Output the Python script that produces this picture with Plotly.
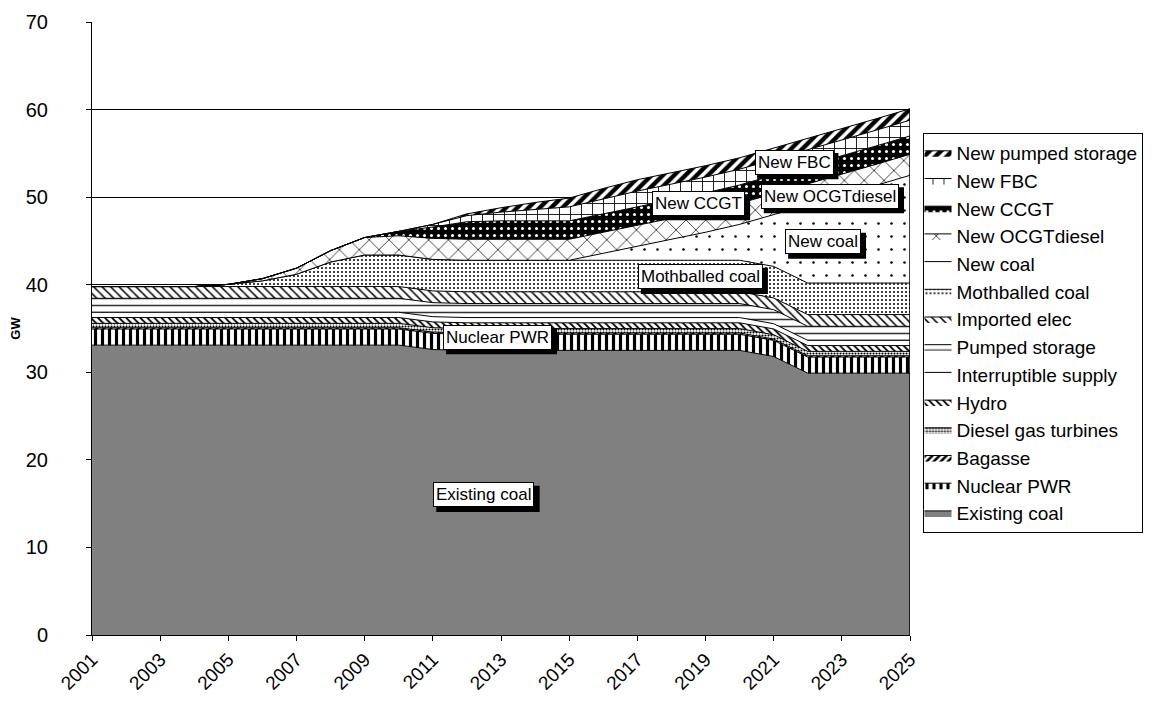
import plotly.graph_objects as go

years = list(range(2001, 2026))
tick_years = [2001, 2003, 2005, 2007, 2009, 2011, 2013, 2015, 2017, 2019, 2021, 2023, 2025]
tick_labels = ["2001", "2003", "2005", "2007", "2009", "2011", "2013", "2015", "2017",
               "2019", "2021", "2023", "2025"]

existing_coal = [33.1, 33.1, 33.1, 33.1, 33.1, 33.1, 33.1, 33.1, 33.1, 33.1, 32.6, 32.5, 32.5,
                 32.5, 32.5, 32.5, 32.5, 32.5, 32.5, 32.5, 31.8, 29.9, 29.9, 29.9, 29.9]
nuclear_pwr = [1.84, 1.84, 1.84, 1.84, 1.84, 1.84, 1.84, 1.84, 1.84, 1.84, 1.84, 1.84, 1.84,
               1.84, 1.84, 1.84, 1.84, 1.84, 1.84, 1.84, 1.84, 1.84, 1.84, 1.84, 1.84]
bagasse = [0.15, 0.15, 0.15, 0.15, 0.15, 0.15, 0.15, 0.15, 0.15, 0.15, 0.15, 0.15, 0.15,
           0.15, 0.15, 0.15, 0.15, 0.15, 0.15, 0.15, 0.15, 0.15, 0.15, 0.15, 0.15]
diesel_gas_turbines = [0.5, 0.5, 0.5, 0.5, 0.5, 0.5, 0.5, 0.5, 0.5, 0.5, 0.5, 0.5, 0.5,
                       0.5, 0.5, 0.5, 0.5, 0.5, 0.5, 0.5, 0.5, 0.5, 0.5, 0.5, 0.5]
hydro = [0.66, 0.66, 0.66, 0.66, 0.66, 0.66, 0.66, 0.66, 0.66, 0.66, 0.66, 0.66, 0.66,
         0.66, 0.66, 0.66, 0.66, 0.66, 0.66, 0.66, 0.66, 0.66, 0.66, 0.66, 0.66]
interruptible_supply = [0.6, 0.6, 0.6, 0.6, 0.6, 0.6, 0.6, 0.6, 0.6, 0.6, 0.6, 0.6, 0.6,
                        0.6, 0.6, 0.6, 0.6, 0.6, 0.6, 0.6, 0.6, 0.6, 0.6, 0.6, 0.6]
pumped_storage = [1.6, 1.6, 1.6, 1.6, 1.6, 1.6, 1.6, 1.6, 1.6, 1.6, 1.6, 1.6, 1.6,
                  1.6, 1.6, 1.6, 1.6, 1.6, 1.6, 1.6, 1.6, 1.6, 1.6, 1.6, 1.6]
imported_elec = [1.34, 1.34, 1.34, 1.34, 1.34, 1.34, 1.34, 1.34, 1.34, 1.34, 1.34, 1.34, 1.34,
                 1.34, 1.34, 1.34, 1.34, 1.34, 1.34, 1.34, 1.34, 1.34, 1.34, 1.34, 1.34]
mothballed_coal = [0, 0, 0, 0, 0.25, 0.65, 1.4, 2.8, 3.6, 3.6, 3.6, 3.6, 3.6,
                   3.6, 3.6, 3.6, 3.6, 3.6, 3.6, 3.6, 3.6, 3.6, 3.6, 3.6, 3.6]
new_coal = [0, 0, 0, 0, 0, 0, 0, 0, 0, 0, 0, 0, 0,
            0, 0, 0.8, 1.6, 2.4, 3.2, 4.1, 5.9, 8.9, 10.0, 11.15, 12.3]
new_ocgt_diesel = [0, 0, 0, 0, 0, 0.25, 0.7, 1.3, 2.0, 2.2, 2.4, 2.4, 2.4,
                   2.4, 2.4, 2.4, 2.4, 2.4, 2.4, 2.4, 2.4, 2.4, 2.4, 2.4, 2.4]
new_ccgt = [0, 0, 0, 0, 0, 0, 0, 0, 0, 0.5, 1.3, 2.0, 2.1,
            2.1, 2.1, 2.1, 2.1, 2.1, 2.1, 2.1, 2.1, 2.1, 2.1, 2.1, 2.1]
new_fbc = [0, 0, 0, 0, 0, 0, 0, 0, 0, 0, 0.3, 0.7, 1.0,
           1.3, 1.6, 1.7, 1.8, 1.8, 1.8, 1.8, 1.8, 1.8, 1.8, 1.8, 1.8]
new_pumped_storage = [0, 0, 0, 0, 0, 0, 0, 0, 0, 0, 0, 0.2, 0.5,
                      0.8, 1.0, 1.2, 1.3, 1.3, 1.3, 1.3, 1.3, 1.3, 1.3, 1.3, 1.3]

series = [
    ("Existing coal", existing_coal, None),
    ("Nuclear PWR", nuclear_pwr, dict(shape="|", size=7, solidity=0.45, fgcolor="black", bgcolor="white")),
    ("Bagasse", bagasse, dict(shape="/", size=5, solidity=0.5, fgcolor="black", bgcolor="white")),
    ("Diesel gas turbines", diesel_gas_turbines, dict(shape=".", size=3, solidity=0.4, fgcolor="black", bgcolor="white")),
    ("Hydro", hydro, dict(shape="\\", size=5, solidity=0.35, fgcolor="black", bgcolor="white")),
    ("Interruptible supply", interruptible_supply, dict(shape="", fgcolor="black", bgcolor="white")),
    ("Pumped storage", pumped_storage, dict(shape="-", size=7, solidity=0.22, fgcolor="#333333", bgcolor="white")),
    ("Imported elec", imported_elec, dict(shape="\\", size=6, solidity=0.25, fgcolor="black", bgcolor="white")),
    ("Mothballed coal", mothballed_coal, dict(shape=".", size=4, solidity=0.2, fgcolor="black", bgcolor="white")),
    ("New coal", new_coal, dict(shape=".", size=13, solidity=0.03, fgcolor="black", bgcolor="white")),
    ("New OCGTdiesel", new_ocgt_diesel, dict(shape="x", size=14, solidity=0.1, fgcolor="black", bgcolor="white")),
    ("New CCGT", new_ccgt, dict(shape=".", size=7, solidity=0.15, fgcolor="white", bgcolor="black")),
    ("New FBC", new_fbc, dict(shape="+", size=11, solidity=0.15, fgcolor="black", bgcolor="white")),
    ("New pumped storage", new_pumped_storage, dict(shape="/", size=8, solidity=0.55, fgcolor="black", bgcolor="white")),
]

fig = go.Figure()
for name, vals, pat in series:
    kw = dict(x=years, y=vals, name=name, mode="lines", stackgroup="one",
              line=dict(color="black", width=1), hoverinfo="skip")
    if pat is None:
        kw["fillcolor"] = "#808080"
    else:
        kw["fillcolor"] = "white"
        kw["fillpattern"] = dict(fillmode="replace", **pat)
    fig.add_trace(go.Scatter(**kw))

# right border of the stacked areas (Excel draws polygon edges)
total_last = sum(s[1][-1] for s in series)
fig.add_shape(type="line", x0=years[-1], x1=years[-1], y0=0, y1=total_last,
              line=dict(color="black", width=1.5), layer="above")

# approximate Arial advance widths (em) for label shadow sizing
_W = {"N": .722, "e": .556, "w": .722, " ": .278, "F": .611, "B": .667, "C": .722,
      "O": .778, "G": .778, "T": .611, "d": .556, "i": .222, "s": .5, "l": .222,
      "c": .5, "o": .556, "a": .556, "M": .833, "t": .278, "h": .556, "b": .556,
      "u": .556, "r": .333, "P": .667, "W": .944, "R": .722, "E": .667, "x": .5,
      "n": .556, "g": .556}


def text_px(s, size):
    return sum(_W.get(ch, .556) for ch in s) * size


LABEL_FONT = 17
labels = [
    ("Existing coal", 2012.5, 16.0),
    ("Nuclear PWR", 2012.9, 34.0),
    ("Mothballed coal", 2018.85, 40.9),
    ("New coal", 2022.45, 44.9),
    ("New OCGTdiesel", 2022.65, 50.1),
    ("New CCGT", 2018.8, 49.3),
    ("New FBC", 2021.6, 54.0),
]
for text, lx, ly in labels:
    w = text_px(text, LABEL_FONT) + 8
    h = LABEL_FONT * 1.3 + 4
    fig.add_shape(type="rect", xref="x", yref="y", xsizemode="pixel", ysizemode="pixel",
                  xanchor=lx, yanchor=ly, x0=-w / 2 + 4, x1=w / 2 + 4, y0=-h / 2 - 4, y1=h / 2 - 4,
                  fillcolor="black", line=dict(width=0), layer="above")
    fig.add_annotation(x=lx, y=ly, text=text, showarrow=False,
                       font=dict(family="Liberation Sans, Arial", size=LABEL_FONT, color="black"),
                       bgcolor="white", bordercolor="black", borderwidth=1, borderpad=2)

fig.update_layout(
    width=1148, height=697,
    margin=dict(l=84, r=246, t=14, b=70, autoexpand=False),
    paper_bgcolor="white", plot_bgcolor="white",
    font=dict(family="Liberation Sans, Arial", size=19, color="black"),
    showlegend=True,
    legend=dict(x=1.0165, y=0.819, xanchor="left", yanchor="top",
                traceorder="reversed", bordercolor="black", borderwidth=1,
                font=dict(size=19), itemwidth=30, bgcolor="white", indentation=-8),
    xaxis=dict(range=[years[0], years[-1]], tickvals=tick_years, ticktext=tick_labels,
               tickangle=-45, showgrid=False, showline=True, linecolor="black", linewidth=1,
               ticks="outside", ticklen=5, tickcolor="black", zeroline=False, automargin=False),
    yaxis=dict(range=[0, 70], dtick=10, showgrid=True, gridcolor="black", gridwidth=1,
               showline=True, linecolor="black", linewidth=1, ticks="outside", ticklen=5,
               tickcolor="black", zeroline=False, automargin=False, ticklabelstandoff=34,
               tickfont=dict(size=20),
               title=dict(text="<b>GW</b>", font=dict(size=13), standoff=8)),
)

fig.write_html("out.html")
